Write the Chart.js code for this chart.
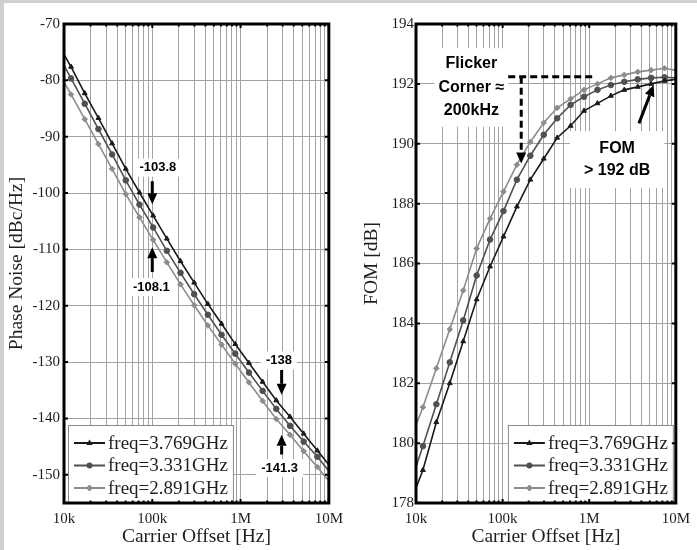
<!DOCTYPE html>
<html>
<head>
<meta charset="utf-8">
<script src="https://cdn.jsdelivr.net/npm/chart.js@4.4.1/dist/chart.umd.min.js"></script>
<style>
  html, body { margin: 0; padding: 0; background: #fff; }
  #wrap { position: relative; width: 697px; height: 550px; overflow: hidden; }
  .strip { position: absolute; background: #cfcfcf; }
  canvas { position: absolute; top: 0; }
</style>
</head>
<body>
<div id="wrap">
  <div class="strip" style="left:0;top:0;width:697px;height:3px"></div>
  <div class="strip" style="left:0;top:0;width:4px;height:550px"></div>
  <canvas id="pn" width="350" height="550" style="left:0"></canvas>
  <canvas id="fom" width="347" height="550" style="left:350px"></canvas>
</div>
<script>
// offset frequencies (Hz); first and last are the plot edges, the rest carry markers
const offsetHz = [10000, 12020, 17180, 24550, 35080, 50120, 71610, 102300, 146200, 208900,
  298500, 426600, 609500, 871000, 1245000, 1778000, 2541000, 3631000, 5188000, 7413000, 10000000];

// phase noise, dBc/Hz
const pn3769 = [-75.4, -77.6, -82.3, -86.7, -91.2, -95.7, -99.9, -104.0, -108.1, -112.1, -115.9,
  -119.7, -123.2, -126.8, -130.15, -133.5, -136.8, -139.7, -142.7, -145.7, -148.2];
const pn3331 = [-77.35, -79.65, -84.15, -88.65, -93.15, -97.75, -102.05, -106.1, -110.25, -114.15, -117.95,
  -121.6, -125.15, -128.5, -131.85, -135.1, -138.3, -141.3, -144.1, -146.8, -149.3];
const pn2891 = [-80.3, -82.5, -86.9, -91.3, -95.7, -100.2, -104.3, -108.3, -112.3, -116.2, -119.9,
  -123.5, -126.9, -130.3, -133.6, -136.9, -140.1, -142.9, -145.8, -148.6, -151.1];

// FOM, dB
const fom3769 = [178.5, 179.1, 180.7, 182.0, 183.4, 184.8, 185.9, 186.9, 187.9, 188.8, 189.5,
  190.2, 190.6, 191.1, 191.35, 191.6, 191.8, 191.9, 192.0, 192.1, 192.15];
const fom3331 = [179.2, 179.9, 181.3, 182.7, 184.1, 185.6, 186.8, 187.75, 188.8, 189.6, 190.3,
  190.85, 191.3, 191.57, 191.8, 191.96, 192.07, 192.15, 192.2, 192.22, 192.2];
const fom2891 = [180.6, 181.2, 182.5, 183.8, 185.1, 186.5, 187.5, 188.4, 189.3, 190.06, 190.7,
  191.2, 191.5, 191.8, 192.0, 192.2, 192.3, 192.4, 192.46, 192.52, 192.45];

const seriesNames = ['freq=3.769GHz', 'freq=3.331GHz', 'freq=2.891GHz'];
const seriesColors = ['#1a1a1a', '#505050', '#8c8c8c'];
const seriesMarkers = ['triangle', 'circle', 'rectRot'];

const pnTicks = [-150, -140, -130, -120, -110, -100, -90, -80, -70];
const fomTicks = [178, 180, 182, 184, 186, 188, 190, 192, 194];
const xTicks = [1e4, 2e4, 3e4, 4e4, 5e4, 6e4, 7e4, 8e4, 9e4,
  1e5, 2e5, 3e5, 4e5, 5e5, 6e5, 7e5, 8e5, 9e5,
  1e6, 2e6, 3e6, 4e6, 5e6, 6e6, 7e6, 8e6, 9e6, 1e7];
const xTickLabels = { 10000: '10k', 100000: '100k', 1000000: '1M', 10000000: '10M' };

const SERIF = '"Liberation Serif", "Times New Roman", serif';
const SANS = '"Liberation Sans", Arial, sans-serif';
const TEXT = '#1e1e1e';
const GRID = '#a2a2a2';

function drawMarker(ctx, style, x, y, r) {
  ctx.beginPath();
  if (style === 'triangle') {
    ctx.moveTo(x, y - r * 1.2);
    ctx.lineTo(x + r * 1.05, y + r * 0.7);
    ctx.lineTo(x - r * 1.05, y + r * 0.7);
    ctx.closePath();
  } else if (style === 'rectRot') {
    ctx.moveTo(x, y - r * 1.2); ctx.lineTo(x + r * 1.2, y);
    ctx.lineTo(x, y + r * 1.2); ctx.lineTo(x - r * 1.2, y);
    ctx.closePath();
  } else {
    ctx.arc(x, y, r, 0, Math.PI * 2);
  }
  ctx.fill();
}

function arrow(ctx, x1, y1, x2, y2, dashed, head) {
  const a = Math.atan2(y2 - y1, x2 - x1), hl = head ? 11 : 0, hw = 5;
  const bx = x2 - hl * Math.cos(a), by = y2 - hl * Math.sin(a);
  ctx.save();
  ctx.strokeStyle = ctx.fillStyle = '#000';
  ctx.lineWidth = 3;
  ctx.setLineDash(dashed ? [7, 4] : []);
  ctx.beginPath(); ctx.moveTo(x1, y1); ctx.lineTo(bx, by); ctx.stroke();
  ctx.setLineDash([]);
  if (head) {
    ctx.beginPath();
    ctx.moveTo(x2, y2);
    ctx.lineTo(bx - hw * Math.sin(a), by + hw * Math.cos(a));
    ctx.lineTo(bx + hw * Math.sin(a), by - hw * Math.cos(a));
    ctx.closePath(); ctx.fill();
  }
  ctx.restore();
}

// frame, inner ticks, in-plot legend and annotations
function decor(notes, arrows, legendSide) {
  return {
    id: 'decor',
    afterDatasetsDraw(chart) {
      const { ctx, chartArea: ca, scales } = chart;
      const px = v => scales.x.getPixelForValue(v), py = v => scales.y.getPixelForValue(v);

      // legend box
      ctx.save();
      ctx.font = '19px ' + SERIF;
      const tw = Math.max(...seriesNames.map(s => ctx.measureText(s).width));
      const bw = 6 + 31 + 3 + tw + 5, bh = 77;
      const bx = legendSide === 'left' ? ca.left + 4 : ca.right - 3 - bw;
      const by = ca.bottom - 1 - bh;
      ctx.fillStyle = '#fff'; ctx.fillRect(bx, by, bw, bh);
      ctx.strokeStyle = '#8a8a8a'; ctx.lineWidth = 1; ctx.strokeRect(bx + 0.5, by + 0.5, bw, bh);
      seriesNames.forEach((name, i) => {
        const cy = by + 18 + i * 22.5;
        ctx.strokeStyle = ctx.fillStyle = seriesColors[i];
        ctx.lineWidth = 2;
        ctx.beginPath(); ctx.moveTo(bx + 6, cy); ctx.lineTo(bx + 37, cy); ctx.stroke();
        drawMarker(ctx, seriesMarkers[i], bx + 21.5, cy, 3);
        ctx.fillStyle = TEXT; ctx.textBaseline = 'middle'; ctx.textAlign = 'left';
        ctx.fillText(name, bx + 40, cy + 1);
      });
      ctx.restore();

      // annotation texts with white backing
      notes.forEach(n => {
        ctx.save();
        ctx.font = n.font;
        const w = Math.max(...n.lines.map(s => ctx.measureText(s).width));
        const cx = px(n.x), cy = py(n.y), h = n.lines.length * n.lineH;
        ctx.fillStyle = '#fff';
        ctx.fillRect(cx - w / 2 - n.pad[0], cy - h / 2 - n.pad[1], w + 2 * n.pad[0], h + 2 * n.pad[1]);
        ctx.fillStyle = '#000'; ctx.textAlign = 'center'; ctx.textBaseline = 'middle';
        n.lines.forEach((s, i) => ctx.fillText(s, cx, cy - h / 2 + n.lineH * (i + 0.5)));
        ctx.restore();
      });
      arrows.forEach(a => arrow(ctx, px(a.from[0]), py(a.from[1]), px(a.to[0]), py(a.to[1]), a.dashed, a.head));

      // thick frame with small inward ticks
      ctx.save();
      ctx.strokeStyle = '#000';
      ctx.lineWidth = 2;
      scales.y.ticks.forEach(t => {
        const y = py(t.value);
        ctx.beginPath();
        ctx.moveTo(ca.left, y); ctx.lineTo(ca.left + 4, y);
        ctx.moveTo(ca.right, y); ctx.lineTo(ca.right - 4, y);
        ctx.stroke();
      });
      xTicks.forEach(v => {
        const x = px(v), l = xTickLabels[v] ? 4 : 2.5;
        ctx.beginPath();
        ctx.moveTo(x, ca.top); ctx.lineTo(x, ca.top + l);
        ctx.moveTo(x, ca.bottom); ctx.lineTo(x, ca.bottom - l);
        ctx.stroke();
      });
      ctx.lineWidth = 3;
      ctx.strokeRect(ca.left, ca.top, ca.right - ca.left, ca.bottom - ca.top);
      ctx.restore();
    },
  };
}

function makeSets(seriesList) {
  return seriesList.map((vals, i) => ({
    label: seriesNames[i],
    data: offsetHz.map((x, j) => ({ x, y: vals[j] })),
    borderColor: seriesColors[i],
    backgroundColor: seriesColors[i],
    borderWidth: 1.6,
    pointStyle: seriesMarkers[i],
    pointRadius: offsetHz.map((_, j) => (j === 0 || j === offsetHz.length - 1) ? 0 : 2.8),
    pointBorderWidth: 1,
    tension: 0,
  }));
}

function makeScales(yMin, yMax, yTicks, yTitle, yWidth, yTitlePad, yTickPad) {
  return {
    x: {
      type: 'logarithmic', min: 1e4, max: 1e7,
      afterBuildTicks: s => { s.ticks = xTicks.map(v => ({ value: v })); },
      afterFit: s => { s.height = 47; },
      grid: { color: GRID, lineWidth: 1, drawTicks: false },
      border: { display: false },
      ticks: {
        autoSkip: false, maxRotation: 0, minRotation: 0, padding: 7, color: TEXT,
        font: { family: SERIF, size: 15 },
        callback: v => xTickLabels[v] || '',
      },
      title: {
        display: true, text: 'Carrier Offset [Hz]', color: TEXT,
        font: { family: SERIF, size: 19.5 }, padding: { top: 0, bottom: 1 },
      },
    },
    y: {
      min: yMin, max: yMax,
      afterBuildTicks: s => { s.ticks = yTicks.map(v => ({ value: v })); },
      afterFit: s => { s.width = yWidth; },
      grid: { color: GRID, lineWidth: 1, drawTicks: false },
      border: { display: false },
      ticks: { padding: yTickPad, color: TEXT, font: { family: SERIF, size: 15 } },
      title: {
        display: true, text: yTitle, color: TEXT,
        font: { family: SERIF, size: 19.5 }, padding: { top: yTitlePad, bottom: 0 },
      },
    },
  };
}

const baseOptions = (padRight, scales) => ({
  responsive: false,
  animation: false,
  layout: { padding: { left: 0, top: 24, right: padRight, bottom: 0 } },
  plugins: { legend: { display: false }, tooltip: { enabled: false } },
  scales,
});

const NOTE_L = 'bold 13px ' + SANS;
new Chart(document.getElementById('pn'), {
  type: 'line',
  data: { datasets: makeSets([pn3769, pn3331, pn2891]) },
  options: baseOptions(20, makeScales(-155, -70, pnTicks, 'Phase Noise [dBc/Hz]', 64, 5, 4)),
  plugins: [decor(
    [
      { lines: ['-103.8'], x: 115600, y: -95.5, font: NOTE_L, lineH: 14, pad: [5, 2] },
      { lines: ['-108.1'], x: 97500, y: -116.7, font: NOTE_L, lineH: 14, pad: [5, 2] },
      { lines: ['-138'], x: 2720000, y: -129.7, font: NOTE_L, lineH: 14, pad: [5, 2] },
      { lines: ['-141.3'], x: 2770000, y: -148.8, font: NOTE_L, lineH: 14, pad: [5, 2] },
    ],
    [
      { from: [1e5, -97.9], to: [1e5, -102.0], head: true },
      { from: [1e5, -114.0], to: [1e5, -109.6], head: true },
      { from: [2.92e6, -131.4], to: [2.92e6, -135.8], head: true },
      { from: [2.92e6, -146.4], to: [2.92e6, -142.9], head: true },
    ],
    'left')],
});

const NOTE_R = 'bold 16px ' + SANS;
new Chart(document.getElementById('fom'), {
  type: 'line',
  data: { datasets: makeSets([fom3769, fom3331, fom2891]) },
  options: baseOptions(16, makeScales(178, 194, fomTicks, 'FOM [dB]', 66, 10, 2)),
  plugins: [decor(
    [
      { lines: ['Flicker', 'Corner \u2248', '200kHz'], x: 43600, y: 191.88, font: NOTE_R, lineH: 23.5, pad: [4, 4] },
      { lines: ['FOM', '> 192 dB'], x: 2100000, y: 189.47, font: NOTE_R, lineH: 22.5, pad: [14, 6] },
    ],
    [
      { from: [116000, 192.24], to: [1110000, 192.24], dashed: true, head: false },
      { from: [164000, 192.24], to: [164000, 189.34], dashed: true, head: true },
      { from: [3750000, 190.68], to: [5540000, 191.96], head: true },
    ],
    'right')],
});
</script>
</body>
</html>
